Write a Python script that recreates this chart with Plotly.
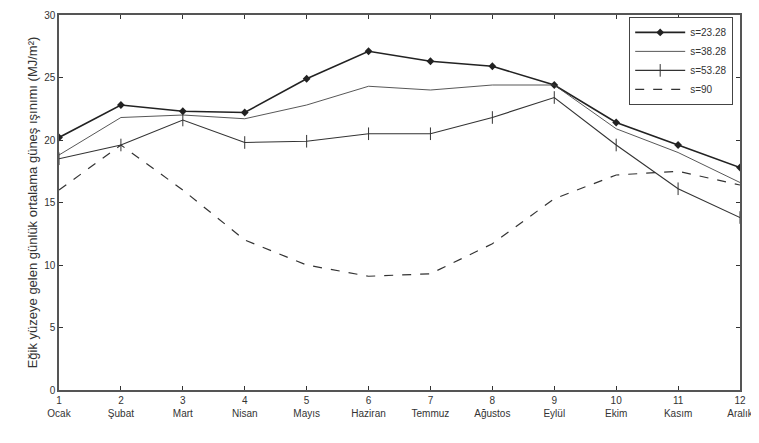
import plotly.graph_objects as go

months = [1, 2, 3, 4, 5, 6, 7, 8, 9, 10, 11, 12]
month_names = ["Ocak", "Şubat", "Mart", "Nisan", "Mayıs", "Haziran",
               "Temmuz", "Ağustos", "Eylül", "Ekim", "Kasım", "Aralık"]
y_ticks = [0, 5, 10, 15, 20, 25, 30]

series_names = ["s=23.28", "s=38.28", "s=53.28", "s=90"]
s1 = [20.2, 22.8, 22.3, 22.2, 24.9, 27.1, 26.3, 25.9, 24.4, 21.4, 19.6, 17.8]
s2 = [18.8, 21.8, 22.0, 21.7, 22.8, 24.3, 24.0, 24.4, 24.4, 20.9, 19.0, 16.6]
s3 = [18.5, 19.6, 21.6, 19.8, 19.9, 20.5, 20.5, 21.8, 23.4, 19.6, 16.1, 13.8]
s4 = [16.0, 19.6, 16.0, 12.0, 10.0, 9.1, 9.3, 11.7, 15.3, 17.2, 17.5, 16.4]

tick_text = [f"{m}<br>{n}" for m, n in zip(months, month_names)]

fig = go.Figure()
fig.add_trace(go.Scatter(x=months, y=s1, name=series_names[0], mode="lines+markers",
                         line=dict(color="#222222", width=1.6),
                         marker=dict(symbol="diamond", size=6, color="#222222")))
fig.add_trace(go.Scatter(x=months, y=s2, name=series_names[1], mode="lines",
                         line=dict(color="#444444", width=0.9)))
fig.add_trace(go.Scatter(x=months, y=s3, name=series_names[2], mode="lines+markers",
                         line=dict(color="#333333", width=1.1),
                         marker=dict(symbol="line-ns-open", size=9,
                                     line=dict(color="#333333", width=1))))
fig.add_trace(go.Scatter(x=months, y=s4, name=series_names[3], mode="lines",
                         line=dict(color="#333333", width=1.2, dash="dash")))

axis_common = dict(showline=True, mirror="ticks", linecolor="#555555", linewidth=1.5,
                   ticks="inside", ticklen=4, tickcolor="#333333",
                   showgrid=False, zeroline=False, automargin=False,
                   ticklabeloverflow="allow",
                   tickfont=dict(family="Liberation Sans, Arial", size=10, color="#333333"))

fig.update_xaxes(range=[1, 12], tickmode="array", tickvals=months, ticktext=tick_text,
                 **axis_common)
fig.update_yaxes(range=[0, 30], tickmode="array", tickvals=y_ticks,
                 title=dict(text="Eğik yüzeye gelen günlük ortalama güneş ışınımı (MJ/m²)",
                            font=dict(family="Liberation Sans, Arial", size=13, color="#333333"),
                            standoff=4),
                 **axis_common)

fig.update_layout(
    width=759, height=443,
    margin=dict(l=51, r=27, t=7, b=61),
    plot_bgcolor="white", paper_bgcolor="white",
    showlegend=True,
    legend=dict(x=0.99, y=0.995, xanchor="right", yanchor="top",
                bgcolor="white", bordercolor="#444444", borderwidth=1,
                font=dict(family="Liberation Sans, Arial", size=10, color="#333333"),
                tracegroupgap=0, itemwidth=50),
)

fig.write_html("out.html")
